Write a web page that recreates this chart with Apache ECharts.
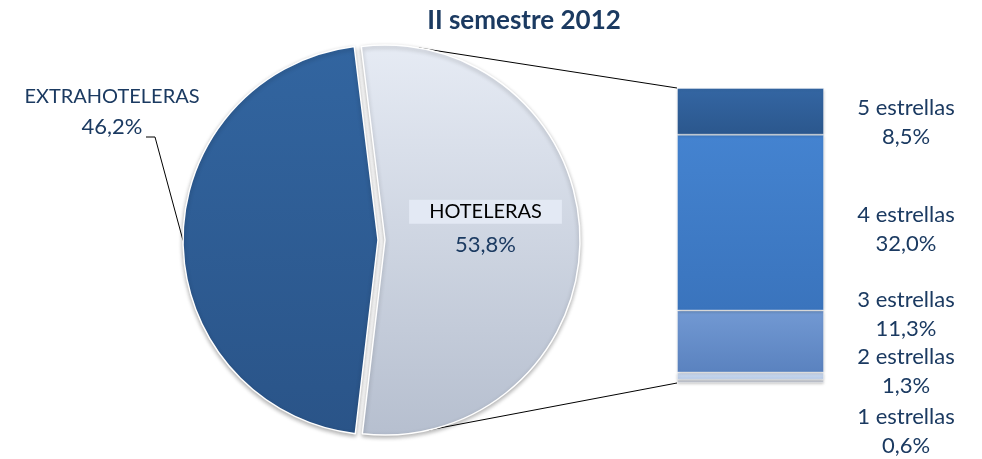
<!DOCTYPE html>
<html>
<head>
<meta charset="utf-8">
<script src="https://cdn.jsdelivr.net/npm/echarts@6/dist/echarts.min.js"></script>
<style>
  html, body { margin: 0; padding: 0; background: #fff; }
  #main { width: 982px; height: 459px; }
</style>
</head>
<body>
<div id="main"></div>
<script>
  // datos
  var titleText = 'II semestre 2012';
  var pieNames = ['EXTRAHOTELERAS', 'HOTELERAS'];
  var pieValues = [46.2, 53.8];
  var barNames = ['1 estrellas', '2 estrellas', '3 estrellas', '4 estrellas', '5 estrellas'];
  var barValues = [0.6, 1.3, 11.3, 32.0, 8.5];

  var navy = '#1b3a61';
  var fontFam = 'Lato';
  function fmt(v) { return v.toFixed(1).replace('.', ',') + '%'; }

  // layout
  var pieC = [378, 240], pieR = 195, explode = 7;
  var barBox = { left: 677, top: 88, width: 147, height: 295 };
  var extraLabel = { x: 112, y: 112 };

  var barColors = [
    ['#d9dde5', '#c3c9d4'],
    ['#d3e0f2', '#b4c8e6'],
    ['#7299d3', '#5a82bf'],
    ['#4483d0', '#3a74bd'],
    ['#3466a3', '#2b578d']
  ];
  // desplazamiento de etiquetas [dx, dy]
  var labelShift = [[82, 50], [82, -5], [82, -27], [82, 7], [82, 11]];

  var barTotal = 0;
  barValues.forEach(function (v) { barTotal += v; });

  var seriesBar = [];
  for (var i = 0; i < barNames.length; i++) {
    seriesBar.push({
      name: barNames[i],
      type: 'bar',
      stack: 'total',
      barWidth: '100%',
      data: [barValues[i]],
      itemStyle: {
        color: new echarts.graphic.LinearGradient(0, 0, 0, 1, [
          { offset: 0, color: barColors[i][0] },
          { offset: 1, color: barColors[i][1] }
        ]),
        borderColor: 'rgba(255,255,255,0.35)',
        borderWidth: 1,
        shadowColor: 'rgba(0,0,0,0.25)',
        shadowBlur: 3,
        shadowOffsetY: 1
      },
      label: {
        show: true,
        position: 'right',
        distance: 0,
        align: 'center',
        offset: labelShift[i],
        color: navy,
        fontFamily: fontFam,
        fontSize: 22,
        lineHeight: 29,
        formatter: function (p) { return p.seriesName + '\n' + fmt(p.value); }
      }
    });
  }

  var chart = echarts.init(document.getElementById('main'));

  var pieData = pieNames.map(function (n, k) {
    return { name: n, value: pieValues[k] };
  });
  pieData[0].itemStyle = {
    color: new echarts.graphic.LinearGradient(0, 0, 0, 1, [
      { offset: 0, color: '#3265a0' },
      { offset: 1, color: '#2a5488' }
    ])
  };
  pieData[0].label = {
    position: 'outside',
    overflow: 'none',
    formatter: function (p) { return '{n|' + p.name + '}\n{v|' + fmt(p.value) + '}'; },
    rich: {
      n: { color: navy, fontSize: 20, fontFamily: fontFam, lineHeight: 30 },
      v: { color: navy, fontSize: 22, fontFamily: fontFam, lineHeight: 30 }
    }
  };
  pieData[0].labelLine = { show: true, length: 20, length2: 10, lineStyle: { color: '#000', width: 1 } };
  pieData[1].selected = true;
  pieData[1].itemStyle = {
    color: new echarts.graphic.LinearGradient(0, 0, 0, 1, [
      { offset: 0, color: '#e6ebf4' },
      { offset: 1, color: '#b6bfcf' }
    ])
  };
  pieData[1].label = {
    position: 'inside',
    formatter: function (p) { return '{n|' + p.name + '}\n{v|' + fmt(p.value) + '}'; },
    rich: {
      n: { color: '#000', fontSize: 20, fontFamily: fontFam, backgroundColor: 'rgba(228,234,244,0.95)', padding: [2, 20, 2, 20], lineHeight: 32 },
      v: { color: navy, fontSize: 22, fontFamily: fontFam, lineHeight: 34 }
    }
  };
  pieData[1].labelLine = { show: false };

  chart.setOption({
    textStyle: { fontFamily: fontFam },
    title: {
      text: titleText,
      left: 519,
      top: 3,
      textAlign: 'center',
      textStyle: { color: navy, fontSize: 26, fontWeight: 'bold', fontFamily: fontFam }
    },
    grid: { left: barBox.left, top: barBox.top, width: barBox.width, height: barBox.height },
    xAxis: { type: 'category', data: ['HOTELERAS'], show: false },
    yAxis: { type: 'value', min: 0, max: barTotal, show: false },
    series: [{
      type: 'pie',
      center: pieC,
      radius: pieR,
      startAngle: 97,
      clockwise: false,
      selectedMode: 'single',
      selectedOffset: explode,
      animation: false,
      itemStyle: {
        borderColor: '#fff',
        borderWidth: 1.5,
        shadowColor: 'rgba(0,0,0,0.3)',
        shadowBlur: 4,
        shadowOffsetY: 2
      },
      label: { fontFamily: fontFam },
      labelLayout: function (p) {
        if (p.dataIndex === 0) {
          var start = p.labelLinePoints ? p.labelLinePoints[0] : [pieC[0] - pieR, pieC[1]];
          var ly = extraLabel.y + 25;
          return {
            x: extraLabel.x,
            y: extraLabel.y,
            align: 'center',
            verticalAlign: 'middle',
            labelLinePoints: [start, [extraLabel.x + 43, ly], [extraLabel.x + 34, ly]]
          };
        }
        return { dy: -11 };
      },
      data: pieData
    }].concat(seriesBar),
    animation: false
  });

  // líneas de unión entre la tarta y la barra
  var lc = pieC[0] + explode;
  var aTop = 80 * Math.PI / 180, aBot = -77 * Math.PI / 180;
  chart.setOption({
    graphic: [
      {
        type: 'line',
        shape: { x1: lc + pieR * Math.cos(aTop), y1: pieC[1] - pieR * Math.sin(aTop), x2: barBox.left, y2: barBox.top },
        style: { stroke: '#000', lineWidth: 1 }
      },
      {
        type: 'line',
        shape: { x1: lc + pieR * Math.cos(aBot), y1: pieC[1] - pieR * Math.sin(aBot), x2: barBox.left, y2: barBox.top + barBox.height },
        style: { stroke: '#000', lineWidth: 1 }
      }
    ]
  });
</script>
</body>
</html>
